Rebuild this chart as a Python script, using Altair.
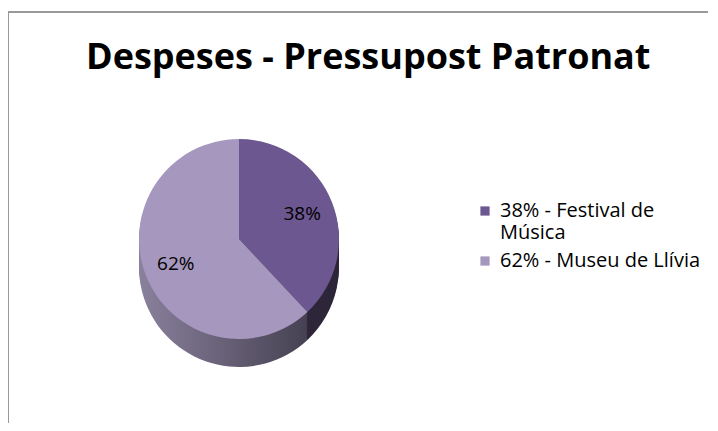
import altair as alt
import pandas as pd

categories = ["38% - Festival de Música", "62% - Museu de Llívia"]
values = [38, 62]
pct_labels = ["38%", "62%"]
order = [1, 2]

top_colors = ["#6C5791", "#A697BE"]

festival_side = "#2E2639"
museu_side = alt.LinearGradient(
    gradient="linear",
    x1=0, y1=0, x2=1, y2=0,
    stops=[
        alt.GradientStop(offset=0, color="#8A819D"),
        alt.GradientStop(offset=1, color="#464152"),
    ],
)

df = pd.DataFrame({"cat": categories, "val": values, "lab": pct_labels, "ord": order})

CX, CY, R = 231, 151, 100
FONT = "Open Sans"

base = alt.Chart(df)

theta = alt.Theta("val:Q", stack=True)
ordr = alt.Order("ord:Q")

layers = []
# sides (3D depth simulation)
for off in range(28, 0, -2):
    layers.append(
        base.mark_arc(radius=R, yOffset=off, x=CX, y=CY).encode(
            theta=theta,
            order=ordr,
            fill=alt.condition(alt.datum.ord == 1, alt.value(festival_side), alt.value(museu_side)),
        )
    )

top = base.mark_arc(radius=R, x=CX, y=CY).encode(
    theta=theta,
    order=ordr,
    color=alt.Color(
        "cat:N",
        scale=alt.Scale(domain=categories, range=top_colors),
        legend=alt.Legend(
            title=None,
            orient="none",
            legendX=467,
            legendY=113,
            symbolType="square",
            symbolSize=85,
            symbolStrokeWidth=0,
            labelFont=FONT,
            labelFontSize=20,
            labelColor="#000000",
            labelLimit=300,
            rowPadding=8,
            labelOffset=5,
            labelExpr="datum.label == '38% - Festival de Música' ? ['38% - Festival de', 'Música'] : datum.label",
        ),
    ),
)
layers.append(top)

text = base.mark_text(radius=68, x=CX, y=CY, font=FONT, fontSize=19, color="#000000").encode(
    theta=theta,
    order=ordr,
    text="lab:N",
)
layers.append(text)

border_top = alt.Chart(pd.DataFrame({"a": [0]})).mark_rule(color="#999999", strokeWidth=2).encode(
    x=alt.value(0), x2=alt.value(700), y=alt.value(-76)
)
border_left = alt.Chart(pd.DataFrame({"a": [0]})).mark_rule(color="#999999", strokeWidth=2).encode(
    x=alt.value(0), y=alt.value(-76), y2=alt.value(335)
)

chart = alt.layer(border_top, border_left, *layers).properties(
    width=700,
    height=335,
    autosize=alt.AutoSizeParams(type="none"),
    padding={"left": 0, "top": 80, "right": 0, "bottom": 0},
    background="#ffffff",
    title=alt.TitleParams(
        "Despeses - Pressupost Patronat",
        font=FONT,
        fontSize=36,
        fontWeight="bold",
        color="#000000",
        anchor="start",
        frame="group",
        dx=78,
        dy=66,
        offset=0,
    ),
).configure_view(stroke=None)

chart.save("out.html", embed_options={"renderer": "svg", "actions": False})
